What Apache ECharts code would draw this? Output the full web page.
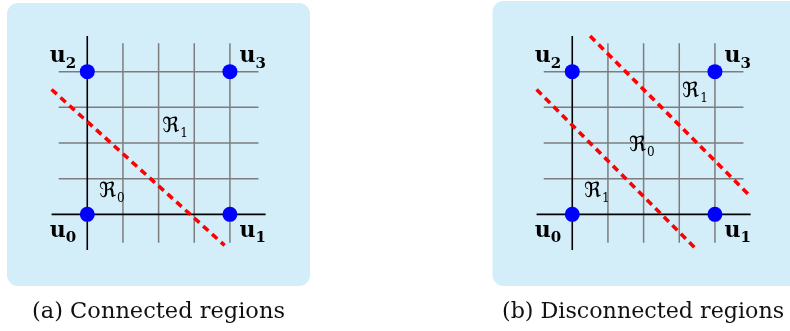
<!DOCTYPE html>
<html>
<head>
<meta charset="utf-8">
<script src="https://cdn.jsdelivr.net/npm/echarts@6/dist/echarts.min.js"></script>
<style>html,body{margin:0;padding:0;background:#fff}#c{width:790px;height:331px}</style>
</head>
<body>
<div id="c"></div>
<script>
// ---- data ----
const gridTicks = [1, 2, 3, 4];
const grayExtent = [-0.8, 4.8];
const axisExtent = [-1, 5];
const cornerPoints = [[0, 0], [4, 0], [0, 4], [4, 4]];
const cornerNames = ['0', '1', '2', '3'];
const cornerLabelPos = [[-0.68, -0.44], [4.64, -0.44], [-0.68, 4.46], [4.64, 4.46]];
const cutA = [[[-1, 3.5], [3.85, -0.87]]];
const cutB = [[[0.5, 5], [5, 0.5]], [[-1, 3.5], [3.5, -1]]];
const regionNamesA = ['1', '0'];
const regionPosA = [[2.46, 2.5], [0.69, 0.68]];
const regionNamesB = ['1', '0', '1'];
const regionPosB = [[3.44, 3.48], [1.95, 1.97], [0.69, 0.68]];
const captions = ['(a) Connected regions', '(b) Disconnected regions'];

// ---- chart ----
const serif = 'DejaVu Serif, DejaVu Sans, serif';
const grids = [
  {left: 51.6, top: 36, width: 214, height: 214},
  {left: 536.6, top: 36, width: 214, height: 214}
];
const series = [];
function lineSer(gi, data, color, width, type, z) {
  series.push({
    type: 'line', xAxisIndex: gi, yAxisIndex: gi, data: data,
    symbol: 'none', silent: true, z: z,
    lineStyle: {color: color, width: width, type: type, opacity: 1}
  });
}
function panel(gi, cuts, rNames, rPos) {
  gridTicks.forEach(t => {
    lineSer(gi, [[t, grayExtent[0]], [t, grayExtent[1]]], '#7d7d7d', 1.5, 'solid', 1);
    lineSer(gi, [[grayExtent[0], t], [grayExtent[1], t]], '#7d7d7d', 1.5, 'solid', 1);
  });
  lineSer(gi, [[0, axisExtent[0]], [0, axisExtent[1]]], '#000', 1.6, 'solid', 2);
  lineSer(gi, [[axisExtent[0], 0], [axisExtent[1], 0]], '#000', 1.6, 'solid', 2);
  cuts.forEach(c => lineSer(gi, c, '#ff0000', 3.6, [7, 5], 3));
  series.push({
    type: 'scatter', xAxisIndex: gi, yAxisIndex: gi, data: cornerPoints,
    symbolSize: 15, itemStyle: {color: '#0000ff', opacity: 1}, z: 4, silent: true
  });
  series.push({
    type: 'scatter', xAxisIndex: gi, yAxisIndex: gi, symbolSize: 0, z: 5, silent: true,
    itemStyle: {opacity: 1},
    data: cornerLabelPos.map((p, i) => ({value: p, label: {formatter: '{b|u}{s|' + cornerNames[i] + '}'}})),
    label: {
      show: true, position: 'inside', color: '#000', textBorderWidth: 0,
      rich: {
        b: {fontFamily: serif, fontWeight: 'bold', fontSize: 22, color: '#000', lineHeight: 24, verticalAlign: 'bottom', textBorderWidth: 0},
        s: {fontFamily: serif, fontWeight: 'bold', fontSize: 15, color: '#000', lineHeight: 24, verticalAlign: 'bottom', padding: [0, 0, -4, 0], textBorderWidth: 0}
      }
    }
  });
  series.push({
    type: 'scatter', xAxisIndex: gi, yAxisIndex: gi, symbolSize: 0, z: 5, silent: true,
    itemStyle: {opacity: 1},
    data: rPos.map((p, i) => ({value: p, label: {formatter: '{r|ℜ}{s|' + rNames[i] + '}'}})),
    label: {
      show: true, position: 'inside', color: '#000', textBorderWidth: 0,
      rich: {
        r: {fontFamily: serif, fontSize: 21, color: '#000', lineHeight: 24, verticalAlign: 'bottom', textBorderWidth: 0},
        s: {fontFamily: serif, fontSize: 12, color: '#000', lineHeight: 24, verticalAlign: 'bottom', padding: [0, 0, -3, 1], textBorderWidth: 0}
      }
    }
  });
}
panel(0, cutA, regionNamesA, regionPosA);
panel(1, cutB, regionNamesB, regionPosB);

const axisBase = {type: 'value', min: axisExtent[0], max: axisExtent[1], show: false};
const chart = echarts.init(document.getElementById('c'), null, {renderer: 'canvas'});
chart.setOption({
  animation: false,
  grid: grids,
  xAxis: [Object.assign({gridIndex: 0}, axisBase), Object.assign({gridIndex: 1}, axisBase)],
  yAxis: [Object.assign({gridIndex: 0}, axisBase), Object.assign({gridIndex: 1}, axisBase)],
  graphic: [
    {type: 'rect', z: -10, shape: {x: 7, y: 3, width: 303, height: 283, r: 11}, style: {fill: '#d3edf9'}},
    {type: 'rect', z: -10, shape: {x: 492.5, y: 1, width: 310, height: 285, r: 11}, style: {fill: '#d3edf9'}},
    {type: 'text', left: 32, top: 301, style: {text: captions[0], font: '22.5px "DejaVu Serif"', fill: '#111'}},
    {type: 'text', left: 502, top: 301, style: {text: captions[1], font: '22.2px "DejaVu Serif"', fill: '#111'}}
  ],
  series: series
});
</script>
</body>
</html>
